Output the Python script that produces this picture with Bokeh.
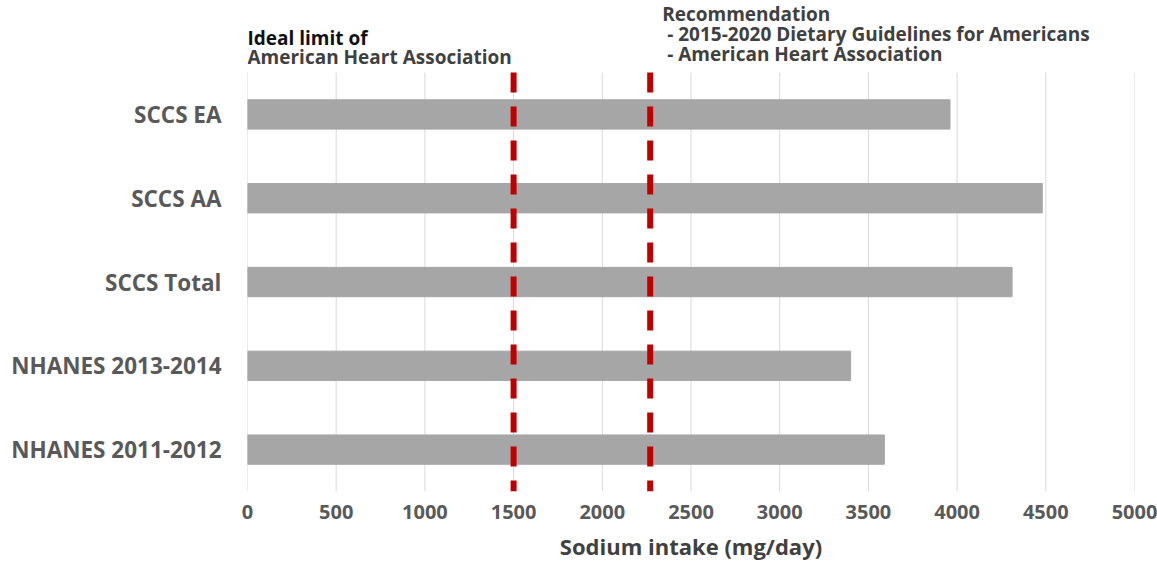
from bokeh.plotting import figure
from bokeh.models import Range1d, FixedTicker
from bokeh.core.properties import value
from bokeh.embed import file_html
from bokeh.resources import INLINE

# Mean sodium intake by study population (mg/day), listed bottom to top
groups = ["NHANES 2011-2012", "NHANES 2013-2014", "SCCS Total", "SCCS AA", "SCCS EA"]
sodium = [3590, 3400, 4310, 4480, 3960]

# Reference limits (mg/day)
ideal_limit = 1500
recommended_limit = 2270

x_ticks = [0, 500, 1000, 1500, 2000, 2500, 3000, 3500, 4000, 4500, 5000]

# header notes: (anchor value on the x axis, line text, colour)
notes_x = [0, 0, recommended_limit, recommended_limit, recommended_limit]
notes_text = ["Ideal limit of", "American Heart Association", "Recommendation",
              "- 2015-2020 Dietary Guidelines for Americans", "- American Heart Association"]
notes_color = ["#111111", "#404040", "#404040", "#404040", "#404040"]

FONT = "Open Sans"
W, H = 1157, 563
BOTTOM = 67
TOP_EXTRA = 0.86          # headroom above the last row for the header notes

n = len(groups)
rows = [i + 0.5 for i in range(n)]
y_end = n + TOP_EXTRA
ppu = (H - BOTTOM) / y_end   # pixels per row unit

p = figure(
    width=W, height=H,
    y_range=Range1d(0, y_end),
    x_range=Range1d(0, 5000),
    output_backend="svg", toolbar_location=None,
    min_border_left=247, min_border_right=23,
    min_border_top=0, min_border_bottom=BOTTOM,
)
p.outline_line_color = None
p.background_fill_color = "white"
p.xgrid.grid_line_color = None
p.ygrid.grid_line_color = None

# vertical gridlines limited to the rows area
p.segment(x0=x_ticks, x1=x_ticks, y0=[0] * len(x_ticks), y1=[n] * len(x_ticks),
          line_color="#d9d9d9", line_width=1)

p.hbar(y=rows, right=sodium, left=0, height=0.35, color="#a6a6a6")

# limit lines, dashed from the top of the rows area down
limits = [ideal_limit, recommended_limit]
p.segment(x0=limits, x1=limits, y0=[n, n], y1=[0, 0], line_color="#c00000",
          line_width=6, line_dash="20 14", line_dash_offset=0)

# header notes; vertical position given as pixels below the top edge
note_px = [38, 57, 14, 34, 54]
note_y = [(H - BOTTOM - px) / ppu for px in note_px]
note_dx = [0, 0, 12, 17, 17]
p.text(x=notes_x, y=note_y, text=notes_text, x_offset=note_dx,
       text_color=notes_color, text_font=value(FONT), text_font_style="bold",
       text_font_size="19px", text_baseline="middle", text_align="left")

# axes
p.xaxis.ticker = x_ticks
p.yaxis.ticker = FixedTicker(ticks=rows, minor_ticks=[])
p.yaxis.major_label_overrides = {r: g for r, g in zip(rows, groups)}

for ax in (p.xaxis, p.yaxis):
    ax.axis_line_color = None
    ax.major_tick_line_color = None
    ax.minor_tick_line_color = None
    ax.major_tick_out = 0
    ax.major_tick_in = 0
    ax.major_label_text_font = FONT
    ax.major_label_text_font_style = "bold"
    ax.major_label_text_color = "#595959"

p.yaxis.major_label_text_font_size = "22.5px"
p.yaxis.major_label_standoff = 26
p.xaxis.major_label_text_font_size = "20px"
p.xaxis.major_label_standoff = 13
p.xaxis.axis_label = "Sodium intake (mg/day)"
p.xaxis.axis_label_text_font = FONT
p.xaxis.axis_label_text_font_style = "bold"
p.xaxis.axis_label_text_font_size = "22px"
p.xaxis.axis_label_text_color = "#404040"
p.xaxis.axis_label_standoff = 9

open("out.html", "w").write(file_html(p, INLINE))
